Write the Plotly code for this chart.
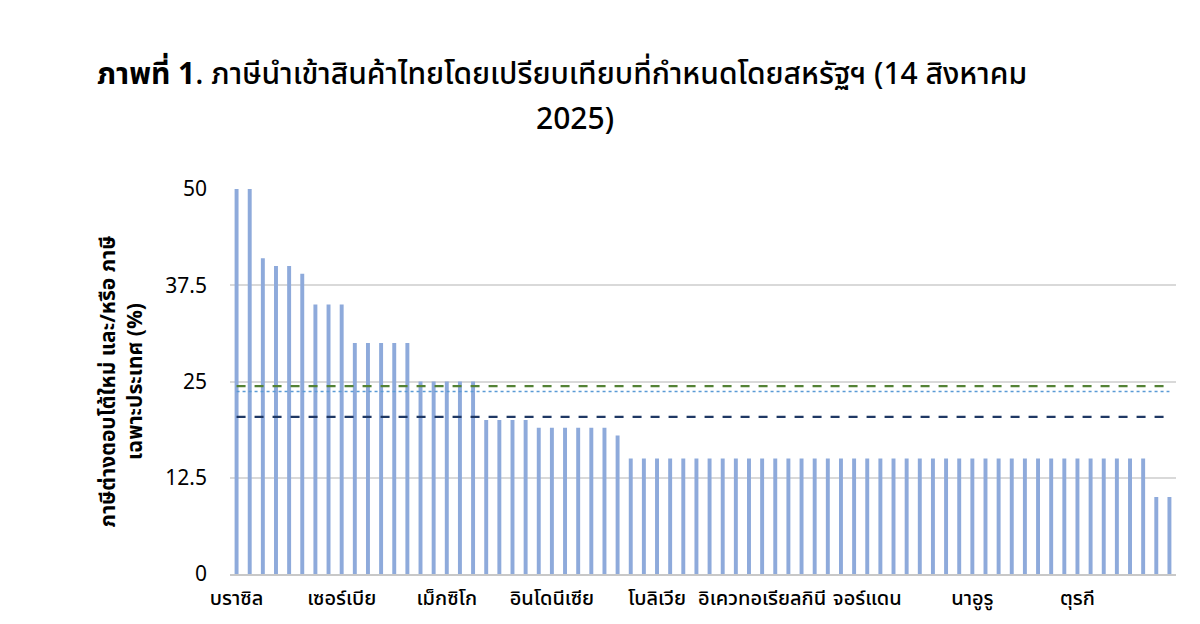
import plotly.graph_objects as go

# Tariff rates (%) per country, sorted high to low
tariffs = ([50, 50, 41, 40, 40, 39, 35, 35, 35]
           + [30] * 5 + [25] * 5 + [20] * 4 + [19] * 6 + [18]
           + [15] * 40 + [10, 10])

# only every 8th country is labelled on the axis
label_positions = [0, 8, 16, 24, 32, 40, 48, 56, 64]
label_names = ['บราซิล', 'เซอร์เบีย', 'เม็กซิโก', 'อินโดนีเซีย', 'โบลิเวีย',
               'อิเควทอเรียลกินี', 'จอร์แดน', 'นาอูรู', 'ตุรกี']

# reference lines
ref_green = 24.4
ref_dotted = 23.7
ref_navy = 20.4

y_ticks = [0, 12.5, 25, 37.5, 50]

FONT = 'Noto Sans Thai, Noto Sans, Liberation Sans, sans-serif'

n = len(tariffs)
xs = list(range(n))

fig = go.Figure()
fig.add_trace(go.Bar(x=xs, y=tariffs, marker_color='#8eaadb',
                     marker_line_width=0, showlegend=False))

for val, col, dash, w in [(ref_green, '#548235', 'dash', 2.2),
                          (ref_dotted, '#5b9bd5', 'dot', 1.3),
                          (ref_navy, '#1f3864', 'dash', 2.2)]:
    fig.add_trace(go.Scatter(x=[xs[0], xs[-1]], y=[val, val], mode='lines',
                             line=dict(color=col, dash=dash, width=w),
                             showlegend=False, hoverinfo='skip'))

# page body has an 8px margin, so the figure is drawn a bit smaller and offset
fig.update_layout(
    width=1192, height=616,
    paper_bgcolor='white', plot_bgcolor='white',
    margin=dict(l=222, r=24, t=181, b=50),
    bargap=0.7,
    font=dict(family=FONT, color='black'),
    annotations=[
        dict(text='<b>ภาพที่ 1</b>. ภาษีนำเข้าสินค้าไทยโดยเปรียบเทียบที่กำหนดโดยสหรัฐฯ (14 สิงหาคม',
             xref='paper', yref='paper', x=(562 - 230) / 946, y=1 + (189 - 75) / 385,
             xanchor='center', yanchor='middle', showarrow=False,
             font=dict(size=30, family=FONT, weight=500)),
        dict(text='2025)',
             xref='paper', yref='paper', x=(575 - 230) / 946, y=1 + (189 - 120) / 385,
             xanchor='center', yanchor='middle', showarrow=False,
             font=dict(size=30, family=FONT, weight=500)),
    ],
)

fig.update_xaxes(range=[-0.5, n - 0.5], tickmode='array',
                 tickvals=label_positions, ticktext=label_names,
                 tickangle=0, ticks='', showgrid=False, automargin=False,
                 showline=True, linecolor='#c8c8c8', linewidth=2,
                 ticklabelstandoff=5,
                 tickfont=dict(size=20, family=FONT, weight=500))
fig.update_yaxes(range=[0, 50], tickmode='array', tickvals=y_ticks,
                 ticktext=['0', '12.5', '25', '37.5', '50'],
                 showgrid=True, gridcolor='#d9d9d9', gridwidth=1.5,
                 zeroline=False, ticks='', ticklabelstandoff=22, automargin=False,
                 tickfont=dict(size=21, family=FONT),
                 title=dict(text='<b>ภาษีต่างตอบโต้ใหม่ และ/หรือ ภาษี<br>เฉพาะประเทศ (%)</b>',
                            font=dict(size=21, family=FONT), standoff=16))

fig.write_html('out.html')
